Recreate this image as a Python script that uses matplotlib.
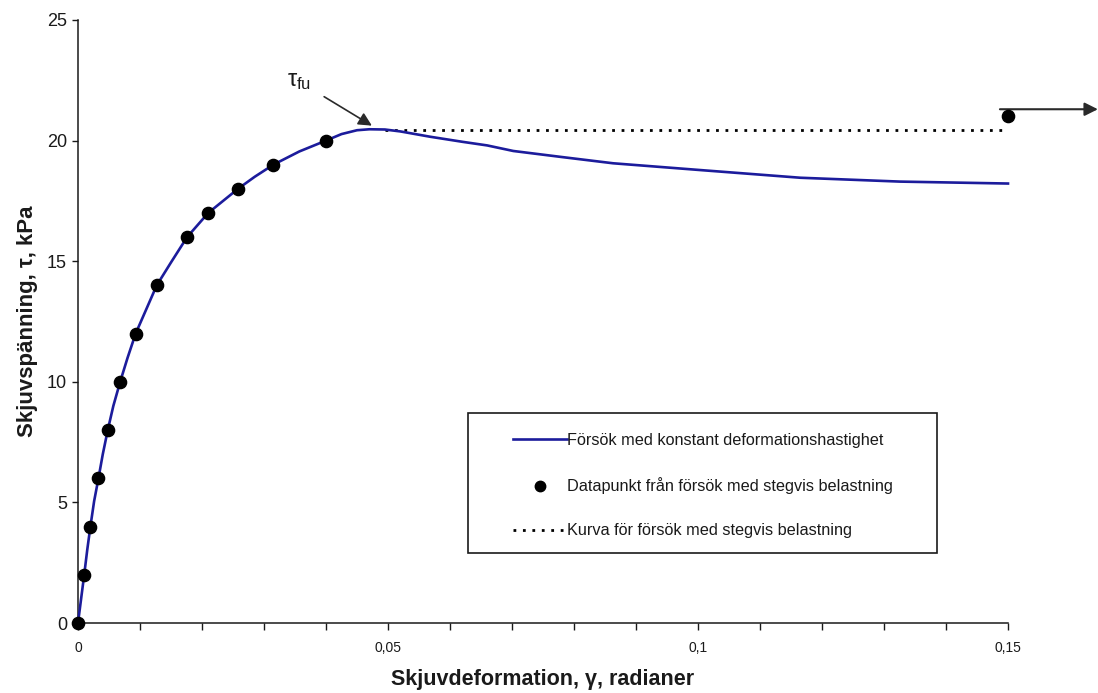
import matplotlib
matplotlib.use("Agg")
import matplotlib.pyplot as plt
from matplotlib import font_manager
from matplotlib.lines import Line2D
from matplotlib.patches import Rectangle

# --- data -------------------------------------------------------------
# continuous test (constant deformation rate)
curve_gamma = [0, 0.001, 0.0015, 0.002, 0.0026, 0.0033, 0.004, 0.0048,
               0.0057, 0.0068, 0.008, 0.0093, 0.011,
               0.0127, 0.015, 0.0176, 0.021, 0.0234, 0.0258, 0.0285,
               0.0315, 0.0357, 0.040, 0.0425, 0.045, 0.047, 0.0495,
               0.052, 0.0568, 0.062, 0.066, 0.0702, 0.078, 0.0863,
               0.1003, 0.1165, 0.1326, 0.150]
curve_tau = [0, 2, 3.05, 4, 5.05, 6, 7.0, 8,
             9.0, 10, 11.0, 12, 13.0,
             14, 14.95, 16, 17, 17.5, 18, 18.5,
             19, 19.55, 20, 20.27, 20.43, 20.47, 20.46,
             20.38, 20.16, 19.95, 19.8, 19.57, 19.32, 19.06,
             18.78, 18.46, 18.3, 18.22]

# stepwise loading test points
step_gamma = [0, 0.001, 0.002, 0.0033, 0.0048, 0.0068, 0.0093, 0.0127,
              0.0176, 0.021, 0.0258, 0.0315, 0.040, 0.150]
step_tau = [0, 2, 4, 6, 8, 10, 12, 14, 16, 17, 18, 19, 20, 21]

# stepwise loading curve (plateau)
plateau_gamma = [0.0495, 0.150]
plateau_tau = [20.45, 20.45]

x_ticks = [0, 0.05, 0.1, 0.15]
x_tick_labels = ["0", "0,05", "0,1", "0,15"]
y_ticks = [0, 5, 10, 15, 20, 25]

legend_labels = ["Försök med konstant deformationshastighet",
                 "Datapunkt från försök med stegvis belastning",
                 "Kurva för försök med stegvis belastning"]

# --- fonts ------------------------------------------------------------
available = {f.name for f in font_manager.fontManager.ttflist}
base_font = "Liberation Sans" if "Liberation Sans" in available else "DejaVu Sans"
narrow_font = "Liberation Sans Narrow" if "Liberation Sans Narrow" in available else base_font
plt.rcParams["font.family"] = [base_font, "DejaVu Sans"]
plt.rcParams["mathtext.fontset"] = "custom"
plt.rcParams["mathtext.rm"] = base_font
plt.rcParams["mathtext.it"] = base_font
plt.rcParams["mathtext.bf"] = base_font + ":bold"

BLUE = "#1c1c9c"
INK = "#1a1a1a"

W, H = 1098, 693
fig = plt.figure(figsize=(W / 100, H / 100), dpi=100)
x0, x1, ytop, ybot = 78, 1008, 20, 623
ax = fig.add_axes([x0 / W, (H - ybot) / H, (x1 - x0) / W, (ybot - ytop) / H])

ax.plot(curve_gamma, curve_tau, color=BLUE, lw=1.9, zorder=3, clip_on=False,
        solid_joinstyle="round")
ax.plot(plateau_gamma, plateau_tau, color="black", lw=2.0,
        linestyle=(0, (1, 2.4)), zorder=2, clip_on=False)
ax.plot(step_gamma, step_tau, linestyle="none", marker="o", ms=8.8,
        color="black", zorder=4, clip_on=False)

ax.set_xlim(0, 0.15)
ax.set_ylim(0, 25)

for side in ("top", "right"):
    ax.spines[side].set_visible(False)
for side in ("left", "bottom"):
    ax.spines[side].set_linewidth(1.1)
    ax.spines[side].set_color(INK)

ax.set_xticks(x_ticks)
ax.set_xticklabels(x_tick_labels, fontfamily=narrow_font, fontsize=10, color=INK)
ax.set_xticks([i / 100 for i in range(16)], minor=True)
ax.tick_params(axis="x", which="both", direction="out", length=5, width=1.0,
               color=INK, pad=8)
ax.set_yticks(y_ticks)
ax.set_yticklabels([str(v) for v in y_ticks], fontsize=13, color=INK)
ax.tick_params(axis="y", direction="out", length=4, width=1.0, color=INK, pad=4)

ax.set_xlabel("Skjuvdeformation, γ, radianer", fontsize=15.5, fontweight="bold",
              color=INK, labelpad=10)
ax.set_ylabel("Skjuvspänning, τ, kPa", fontsize=16, fontweight="bold",
              color=INK, labelpad=6)

# peak annotation
ax.text(0.0337, 22.25, r"$\tau_{\mathrm{fu}}$", fontsize=17, color=INK)
ax.annotate("", xy=(0.0474, 20.62), xytext=(0.0397, 21.82),
            annotation_clip=False,
            arrowprops=dict(arrowstyle="-|>", color="#2a2a2a", lw=1.2,
                            mutation_scale=20, shrinkA=0, shrinkB=0))

# continuation arrow at the right edge
ax.annotate("", xy=(0.1645, 21.3), xytext=(0.1487, 21.3),
            annotation_clip=False,
            arrowprops=dict(arrowstyle="-|>", color="#2a2a2a", lw=1.5,
                            mutation_scale=20, shrinkA=0, shrinkB=0))

# legend
handles = [Line2D([], [], color=BLUE, lw=1.9),
           Line2D([], [], linestyle="none", marker="o", ms=7.5, color="black"),
           Line2D([], [], color="black", lw=2.0, linestyle=(0, (1, 2.4)))]
leg = ax.legend(handles, legend_labels, loc="upper left",
                bbox_to_anchor=((513 - x0) / (x1 - x0), (ybot - 433) / (ybot - ytop)),
                frameon=False, fontsize=11.7, handlelength=3.3,
                handletextpad=0.0, labelspacing=1.8, borderpad=0,
                borderaxespad=0)
for t in leg.get_texts():
    t.set_color(INK)

fig.patches.append(Rectangle((468 / W, (H - 553) / H), (937 - 468) / W, (553 - 413) / H,
                             transform=fig.transFigure, fill=False,
                             edgecolor=INK, lw=1.2, zorder=5))

fig.savefig("out.png", dpi=100)
